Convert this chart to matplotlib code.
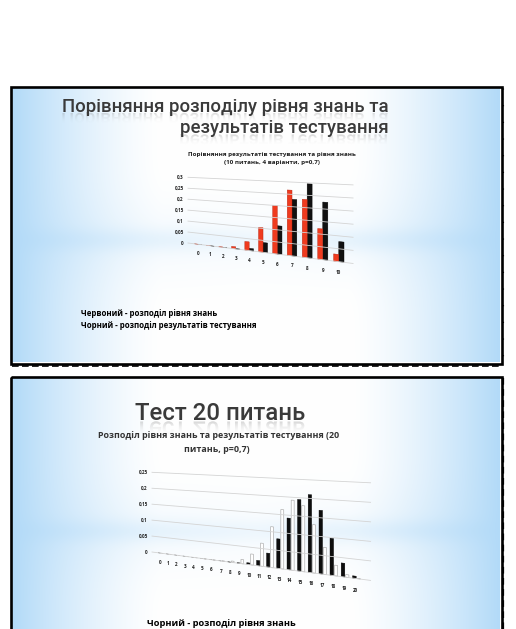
import numpy as np
import matplotlib
matplotlib.use("Agg")
import matplotlib.pyplot as plt
from matplotlib import transforms as mtransforms
from matplotlib.patches import Rectangle, PathPatch
from matplotlib.textpath import TextPath
from matplotlib.font_manager import FontProperties

# ---------------- data ----------------
cats10 = list(range(11))
red10 = [0.000006, 0.00014, 0.0014, 0.009, 0.037, 0.103, 0.200, 0.267, 0.233, 0.121, 0.028]
black10 = [0.0, 0.00001, 0.0002, 0.0016, 0.0098, 0.041, 0.117, 0.230, 0.296, 0.227, 0.078]
yt10 = [0, 0.05, 0.1, 0.15, 0.2, 0.25, 0.3]
yl10 = ["0", "0,05", "0,1", "0,15", "0,2", "0,25", "0,3"]

cats20 = list(range(21))
black20 = [0, 0, 0, 0, 0, 0, 0, 0, 0.0003, 0.0013, 0.0048, 0.015, 0.039, 0.082,
           0.142, 0.195, 0.210, 0.170, 0.098, 0.036, 0.006]
white20 = [0, 0, 0, 0, 0, 0.00004, 0.0002, 0.001, 0.0039, 0.012, 0.031, 0.065,
           0.114, 0.164, 0.192, 0.179, 0.130, 0.072, 0.028, 0.007, 0.0008]
yt20 = [0, 0.05, 0.1, 0.15, 0.2, 0.25]
yl20 = ["0", "0,05", "0,1", "0,15", "0,2", "0,25"]

title1a = "Порівняння розподілу рівня знань та"
title1b = "результатів тестування"
ctitle1a = "Порівняння результатів тестування та рівня знань"
ctitle1b = "(10 питань, 4 варіанти, p=0,7)"
legend1a = "Червоний - розподіл рівня знань"
legend1b = "Чорний - розподіл результатів тестування"
title2 = "Тест 20 питань"
ctitle2a = "Розподіл рівня знань та результатів тестування (20"
ctitle2b = "питань, p=0,7)"
legend2a = "Чорний - розподіл рівня знань"

# ---------------- figure ----------------
W, H = 516, 629
fig = plt.figure(figsize=(W / 100, H / 100), dpi=100)
fig.patch.set_facecolor("white")
bg = fig.add_axes([0, 0, 1, 1])
bg.axis("off")

BLUE = np.array([178, 218, 248]) / 255.0


def slide_bg(top, bottom, band_y):
    xs = np.arange(12, 500) + 0.5
    ys = np.arange(top, bottom) + 0.5
    X, Y = np.meshgrid(xs, ys)
    dx = np.abs(X - 256) / 244.0
    h = np.clip((dx - 0.38) / 0.62, 0, 1) ** 1.4
    band = 0.30 * np.exp(-((Y - band_y) / 12.0) ** 2) + 0.18 * np.exp(-((Y - band_y) / 40.0) ** 2)
    band = band * (0.45 + 0.55 * dx)
    w = 1 - (1 - h) * (1 - np.clip(band, 0, 1))
    img = np.ones(X.shape + (3,)) * (1 - w[..., None]) + BLUE * w[..., None]
    bg.imshow(img, extent=(12, 500, bottom, top), aspect="auto", interpolation="bilinear", zorder=0)


slide_bg(88, 362, 240)
slide_bg(378, 640, 531)

# frames
for (x0, y0, x1, y1) in [(10.5, 86.5, 501.5, 363.5), (10.5, 376.5, 501.5, 660)]:
    bg.add_patch(Rectangle((x0, y0), x1 - x0, y1 - y0, fill=False, edgecolor="black",
                           lw=1.9, zorder=1))
bg.plot([12, 500], [365.5, 365.5], color="black", lw=1.2, dashes=(4, 2), zorder=1)
bg.plot([503, 503], [88, 362], color="black", lw=0.8, dashes=(1, 14), zorder=1)
bg.plot([503, 503], [378, 629], color="black", lw=1.6, dashes=(3, 2), zorder=1)

bg.set_xlim(0, W)
bg.set_ylim(H, 0)

renderer = fig.canvas.get_renderer()


def fit_text(x, y, s, width_px, **kw):
    t = bg.text(x, y, s, fontsize=10, **kw)
    wpx = t.get_window_extent(renderer).width
    t.set_fontsize(10 * width_px / wpx)
    return t


def reflect(t, y_base):
    fs = t.get_fontsize()
    size_px = fs * 100 / 72.0
    fp = FontProperties(family=t.get_fontfamily(), size=size_px, weight=t.get_fontweight())
    tp = TextPath((0, 0), t.get_text(), size=size_px, prop=fp)
    ext = tp.get_extents()
    bb = t.get_window_extent(renderer)
    dx = bb.x0 - ext.x0
    tr = mtransforms.Affine2D().translate(dx, y_base + 1.5) + bg.transData
    patch = PathPatch(tp, transform=tr, facecolor="none", edgecolor="none")
    bg.add_patch(patch)
    n = 64
    grad = np.zeros((n, 2, 4))
    grad[..., :3] = 0.45
    grad[..., 3] = (np.linspace(1.0, 0.0, n) ** 2.0 * 0.30)[:, None]
    hh = size_px * 0.6
    im = bg.imshow(grad, extent=(ext.x0 + dx, ext.x1 + dx, y_base + 1.5 + hh, y_base + 1.5),
                   aspect="auto", zorder=2)
    im.set_clip_path(patch)


TFONT = ["Roboto", "DejaVu Sans"]
SFONT = ["Open Sans", "DejaVu Sans"]

t1 = fit_text(389, 111.5, title1a, 327, ha="right", va="baseline", family=TFONT,
              weight="medium", color="#3a3a3a", zorder=3)
t1b = bg.text(389, 133, title1b, ha="right", va="baseline", family=TFONT, weight="medium",
              color="#3a3a3a", fontsize=t1.get_fontsize(), zorder=3)
reflect(t1b, 133)
reflect(t1, 111.5)

t2 = fit_text(220, 420, title2, 170, ha="center", va="baseline", family=TFONT, weight="medium",
              color="#3a3a3a", zorder=3)
reflect(t2, 420)

c1 = fit_text(272, 154.5, ctitle1a, 168, ha="center", va="center", family=SFONT, weight="bold",
              color="#222222", zorder=3)
bg.text(272, 162.5, ctitle1b, ha="center", va="center", family=SFONT, weight="bold",
        color="#222222", fontsize=c1.get_fontsize(), zorder=3)

c2 = fit_text(219, 435, ctitle2a, 242, ha="center", va="center", family=SFONT, weight="bold",
              color="#333333", zorder=3)
bg.text(217, 449.5, ctitle2b, ha="center", va="center", family=SFONT, weight="bold",
        color="#333333", fontsize=c2.get_fontsize(), zorder=3)

l1 = fit_text(81, 325, legend1b, 177, ha="left", va="center", family=SFONT, weight="bold",
              color="black", zorder=3)
bg.text(81, 313.5, legend1a, ha="left", va="center", family=SFONT, weight="bold",
        color="black", fontsize=l1.get_fontsize(), zorder=3)
fit_text(147, 624, legend2a, 149, ha="left", va="center", family=SFONT, weight="bold",
         color="black", zorder=3)


# ---------------- perspective warp ----------------
class Warp(mtransforms.Transform):
    input_dims = 2
    output_dims = 2
    is_separable = False
    has_inverse = False

    def __init__(self, qa, k0, k1, r):
        super().__init__()
        self.qa, self.k0, self.k1, self.r = qa, k0, k1, r

    def transform_non_affine(self, values):
        v = np.asarray(values, dtype=float).reshape(-1, 2)
        x, y = v[:, 0], v[:, 1]
        xn = x + self.qa * x * x
        yn = y - (self.k0 + (self.k1 - self.k0) * y) * self.r * xn
        return np.column_stack([xn, yn])


def make_axes(left_px, base_px, w_px, h_px, xlim, ylim, q, k0, k1):
    ax = fig.add_axes([left_px / W, (H - base_px) / H, w_px / W, h_px / H])
    ax.set_xlim(*xlim)
    ax.set_ylim(*ylim)
    ax.patch.set_visible(False)
    for s in ax.spines.values():
        s.set_visible(False)
    ax.set_xticks([])
    T = ax.transData + ax.transAxes.inverted() + Warp(q * w_px, k0, k1, w_px / h_px) + ax.transAxes
    return ax, T


# chart 1
ax1, T1 = make_axes(188, 243, 135, 65.7, (-0.87, 10.87), (0, 0.3), 0.00165, 0.124, 0.046)
for v in yt10:
    ln, = ax1.plot([-0.87, 10.87], [v, v], color="#d4d4d4", lw=0.6, transform=T1)
    ln.set_clip_on(False)
x1 = np.array(cats10, dtype=float)
b_black = ax1.bar(x1 + 0.16, black10, width=0.32, color="#111111", edgecolor="#000000", lw=0.3)
b_red = ax1.bar(x1 - 0.16, red10, width=0.32, color="#ef3b1f", edgecolor="#b3230f", lw=0.3)
for p in list(b_black) + list(b_red):
    p.set_transform(T1)
    p.set_clip_on(False)
for c in cats10:
    t = ax1.text(c, -0.041, str(c), transform=T1, ha="center", va="center", fontsize=3.3,
                 weight="bold", family=SFONT, color="#222222")
    t.set_clip_on(False)
ax1.set_yticks(yt10)
ax1.set_yticklabels(yl10, fontsize=3.3, weight="bold", family=SFONT, color="#222222")
ax1.tick_params(axis="y", length=0, pad=3)
ax1.set_xlim(-0.87, 10.87)
ax1.set_ylim(0, 0.3)

# chart 2
ax2, T2 = make_axes(152, 552, 176.3, 79.7, (-1.01, 21.3), (0, 0.25), 0.00136, 0.13, 0.048)
for v in yt20:
    ln, = ax2.plot([-1.01, 21.3], [v, v], color="#d4d4d4", lw=0.6, transform=T2)
    ln.set_clip_on(False)
x2 = np.array(cats20, dtype=float)
b_white = ax2.bar(x2 + 0.28, white20, width=0.28, color="white", edgecolor="#b0b0b0", lw=0.5)
b_blk = ax2.bar(x2 - 0.1, black20, width=0.32, color="#0d0d0d", edgecolor="#000000", lw=0.3)
for p in list(b_white) + list(b_blk):
    p.set_transform(T2)
    p.set_clip_on(False)
for c in cats20:
    t = ax2.text(c, -0.030, str(c), transform=T2, ha="center", va="center", fontsize=3.3,
                 weight="bold", family=SFONT, color="#222222")
    t.set_clip_on(False)
ax2.set_yticks(yt20)
ax2.set_yticklabels(yl20, fontsize=3.3, weight="bold", family=SFONT, color="#222222")
ax2.tick_params(axis="y", length=0, pad=3)
ax2.set_xlim(-1.01, 21.3)
ax2.set_ylim(0, 0.25)

fig.savefig("out.png", dpi=100)
